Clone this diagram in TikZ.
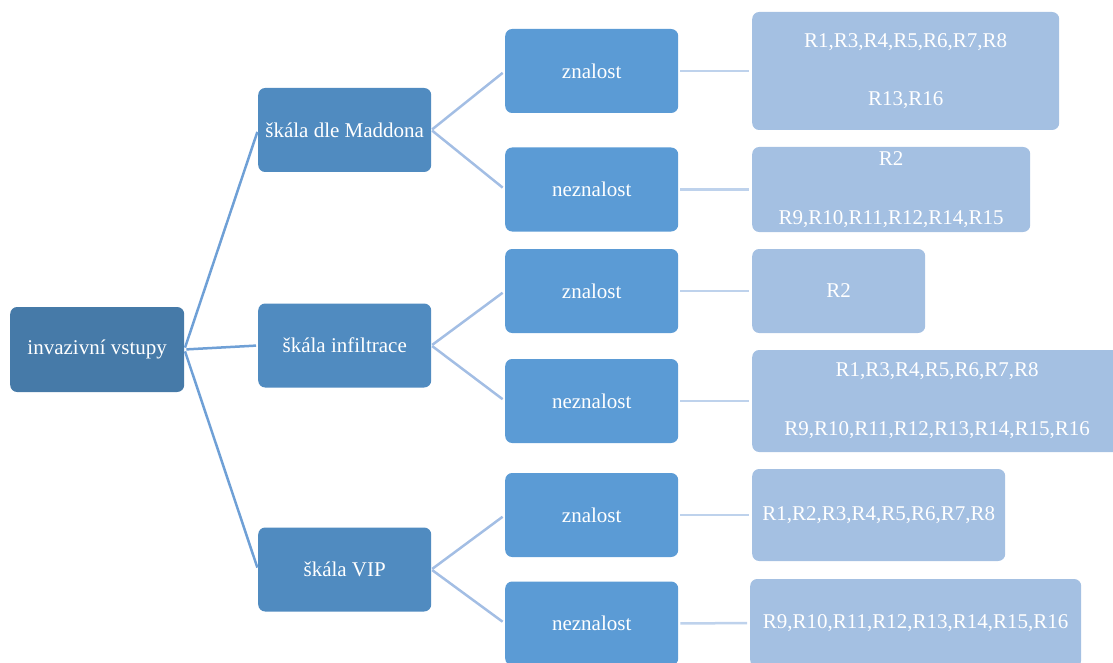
\documentclass[tikz,border=0pt]{standalone}
\usepackage{fontspec}
\setmainfont{Liberation Serif}
\definecolor{rootblue}{HTML}{467AA8}
\definecolor{scaleblue}{HTML}{508BC0}
\definecolor{answerblue}{HTML}{5B9BD5}
\definecolor{respblue}{HTML}{A4C0E2}
\definecolor{rootline}{HTML}{6FA0D6}
\definecolor{scaleline}{HTML}{A3BEE4}
\definecolor{respline}{HTML}{BED2EC}

\begin{document}
\begin{tikzpicture}[x=1pt,y=-1pt,-,
  box/.style={rounded corners=7pt, text=white, align=center, inner sep=0pt,
              font=\fontsize{21}{25}\selectfont, anchor=west},
  rootbox/.style={box, fill=rootblue, minimum width=174pt, minimum height=85pt},
  scalebox/.style={box, fill=scaleblue, minimum width=173pt, minimum height=84pt},
  answerbox/.style={box, fill=answerblue, minimum width=173pt, minimum height=84pt},
  respbox/.style={box, fill=respblue}]
  \useasboundingbox (0,0) rectangle (1113,663);
  \clip (0,0) rectangle (1113,663);
  \node (root) [rootbox]  at (10,349.5)  {invazivní vstupy};
  \node (mad)  [scalebox] at (258,130)   {škála dle Maddona};
  \node (inf)  [scalebox] at (258,345.5) {škála infiltrace};
  \node (vip)  [scalebox] at (258,569.5) {škála VIP};
  \node (madz) [answerbox] at (505,71)    {znalost};
  \node (madn) [answerbox] at (505,189.5) {neznalost};
  \node (infz) [answerbox] at (505,291)   {znalost};
  \node (infn) [answerbox] at (505,401)   {neznalost};
  \node (vipz) [answerbox] at (505,515)   {znalost};
  \node (vipn) [answerbox] at (505,623.5) {neznalost};
  \node (madzr) [respbox, minimum width=307pt, minimum height=118pt] at (752,71)
        {R1,R3,R4,R5,R6,R7,R8\\[33pt]R13,R16};
  \node (madnr) [respbox, minimum width=278pt, minimum height=85pt] at (752,189.5)
        {R2\\[34pt]R9,R10,R11,R12,R14,R15};
  \node (infzr) [respbox, minimum width=173pt, minimum height=84pt] at (752,291) {R2};
  \node (infnr) [respbox, minimum width=370pt, minimum height=102pt] at (752,401)
        {R1,R3,R4,R5,R6,R7,R8\\[34pt]R9,R10,R11,R12,R13,R14,R15,R16};
  \node (vipzr) [respbox, minimum width=253pt, minimum height=92pt] at (752,515)
        {R1,R2,R3,R4,R5,R6,R7,R8};
  \node (vipnr) [respbox, minimum width=331pt, minimum height=88pt] at (750,623)
        {R9,R10,R11,R12,R13,R14,R15,R16};
  \path[draw=rootline, line width=2.5pt, shorten <=2pt, shorten >=2pt]
        (root.east) edge (mad.west)
                    edge (inf.west)
                    edge (vip.west);
  \path[draw=scaleline, line width=2.5pt, shorten <=1pt, shorten >=3pt]
        (mad.east) edge (madz.west)
                   edge (madn.west)
        (inf.east) edge (infz.west)
                   edge (infn.west)
        (vip.east) edge (vipz.west)
                   edge (vipn.west);
  \path[draw=respline, line width=2.5pt, shorten <=2pt, shorten >=3pt]
        (madz.east) edge (madzr.west)
        (madn.east) edge (madnr.west)
        (infz.east) edge (infzr.west)
        (infn.east) edge (infnr.west)
        (vipz.east) edge (vipzr.west)
        (vipn.east) edge (vipnr.west);
\end{tikzpicture}
\end{document}
